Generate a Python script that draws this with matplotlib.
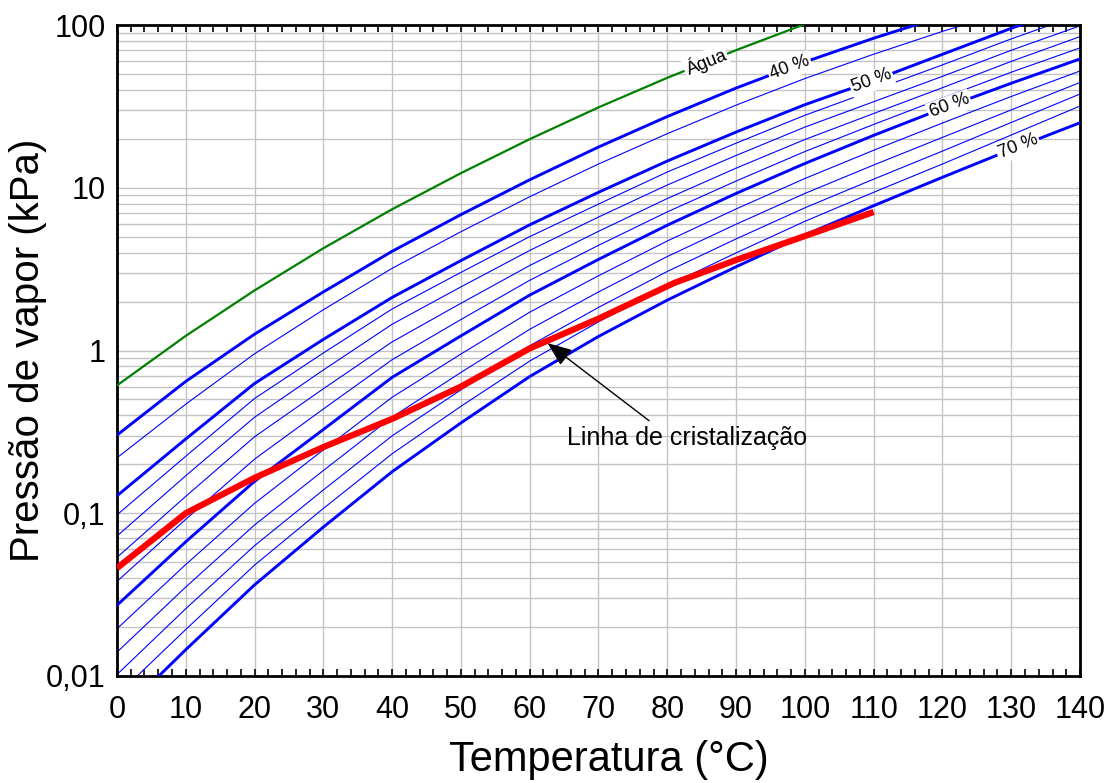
import numpy as np
import matplotlib.pyplot as plt
from matplotlib.ticker import FixedLocator, NullFormatter, LogLocator

plt.rcParams['font.family'] = ['Liberation Sans', 'DejaVu Sans']

# temperatures (°C) at which the curves were read
temps = [0, 10, 20, 30, 40, 50, 60, 70, 80, 90, 100, 110, 120, 130, 140]

# vapour pressure (kPa)
agua = [0.61, 1.23, 2.34, 4.25, 7.38, 12.3, 19.9, 31.2, 47.4, 70.1, 101.3, 143, 199, 270, 361]
c40 = [0.302, 0.646, 1.26, 2.29, 4.07, 6.84, 11.2, 17.8, 27.4, 41.0, 59.3, 83.0, 113, 151, 198]
c45 = [0.219, 0.468, 0.955, 1.78, 3.20, 5.37, 8.81, 14.0, 21.5, 32.2, 46.9, 66.2, 91.4, 123, 163]
c50 = [0.128, 0.286, 0.627, 1.17, 2.12, 3.57, 5.92, 9.38, 14.6, 22.0, 32.4, 45.7, 66.1, 95.5, 135]
c52 = [0.0977, 0.224, 0.507, 0.966, 1.80, 3.02, 5.01, 7.94, 12.5, 18.8, 27.9, 39.8, 56.9, 82.2, 116]
c54 = [0.0724, 0.170, 0.389, 0.759, 1.45, 2.46, 4.12, 6.61, 10.4, 15.8, 23.6, 33.8, 48.4, 70.0, 98.9]
c56 = [0.0535, 0.127, 0.295, 0.582, 1.13, 1.95, 3.33, 5.40, 8.59, 13.2, 19.8, 28.6, 41.2, 59.8, 84.9]
c58 = [0.0381, 0.0918, 0.215, 0.437, 0.878, 1.55, 2.70, 4.43, 7.11, 11.0, 16.7, 24.5, 35.6, 51.3, 72.4]
c60 = [0.0272, 0.0668, 0.157, 0.327, 0.684, 1.23, 2.19, 3.63, 5.89, 9.23, 14.1, 21.0, 30.7, 43.9, 61.9]
c62 = [0.0195, 0.0484, 0.115, 0.245, 0.516, 0.951, 1.72, 2.88, 4.71, 7.41, 11.4, 17.0, 25.0, 36.4, 52.2]
c64 = [0.0140, 0.0352, 0.0847, 0.183, 0.390, 0.733, 1.35, 2.29, 3.78, 5.97, 9.23, 13.8, 20.4, 30.1, 44.4]
c66 = [0.0102, 0.0259, 0.0632, 0.139, 0.299, 0.573, 1.07, 1.84, 3.06, 4.85, 7.53, 11.3, 16.8, 25.2, 37.7]
c68 = [0.0076, 0.0193, 0.0480, 0.107, 0.232, 0.454, 0.861, 1.50, 2.50, 3.98, 6.22, 9.38, 14.0, 21.1, 31.8]
c70 = [0.0056, 0.0145, 0.0363, 0.0822, 0.180, 0.359, 0.692, 1.22, 2.04, 3.27, 5.13, 7.76, 11.6, 17.2, 25.1]

# crystallization line
crist_t = [0, 10, 20, 30, 40, 50, 60, 70, 81, 90, 100, 110]
crist_p = [0.046, 0.10, 0.165, 0.255, 0.38, 0.60, 1.03, 1.57, 2.6, 3.6, 5.05, 7.1]

thick_curves = {'40 %': c40, '50 %': c50, '60 %': c60, '70 %': c70}
thin_curves = [c45, c52, c54, c56, c58, c62, c64, c66, c68]

fig = plt.figure(figsize=(11.14, 7.83), dpi=100)
ax = fig.add_axes([0.105, 0.1367, 0.8645, 0.8313])

ax.set_yscale('log')
ax.set_xlim(0, 140)
ax.set_ylim(0.01, 100)

# grid
ax.xaxis.set_major_locator(FixedLocator(range(0, 141, 10)))
ax.xaxis.set_minor_locator(FixedLocator(range(0, 141, 2)))
ax.yaxis.set_major_locator(FixedLocator([0.01, 0.1, 1, 10, 100]))
ax.yaxis.set_minor_locator(LogLocator(base=10, subs=np.arange(2, 10)))
ax.yaxis.set_minor_formatter(NullFormatter())
ax.grid(True, which='major', color='#c4c4c4', lw=1.0)
ax.grid(True, which='minor', axis='y', color='#c4c4c4', lw=1.0)
ax.set_axisbelow(True)

for c in thin_curves:
    ax.plot(temps, c, color='#0000ff', lw=0.8, zorder=2)
for c in thick_curves.values():
    ax.plot(temps, c, color='#0000ff', lw=2.1, zorder=3)
ax.plot(temps, agua, color='#008000', lw=1.6, zorder=3)
ax.plot(crist_t, crist_p, color='#ff0000', lw=4.5, solid_capstyle='butt', zorder=4)

# curve labels on the lines
def put_label(text, curve, t):
    logc = np.log10(curve)
    y = 10 ** np.interp(t, temps, logc)
    p1 = ax.transData.transform((t - 3, 10 ** np.interp(t - 3, temps, logc)))
    p2 = ax.transData.transform((t + 3, 10 ** np.interp(t + 3, temps, logc)))
    ang = np.degrees(np.arctan2(p2[1] - p1[1], p2[0] - p1[0]))
    ax.text(t, y, text, rotation=ang, rotation_mode='anchor', ha='center', va='center',
            fontsize=13, zorder=5,
            bbox=dict(boxstyle='square,pad=0.1', fc='white', ec='none'))

put_label('Água', agua, 85.6)
for (lbl, c), t in zip(thick_curves.items(), [97.8, 109.7, 121.0, 131.0]):
    put_label(lbl, c, t)

ax.annotate('Linha de cristalização', xy=(62.6, 1.11), xytext=(82.9, 0.29),
            ha='center', va='center', fontsize=18, zorder=6,
            arrowprops=dict(arrowstyle='-|>,head_length=0.75,head_width=0.3',
                            color='black', lw=1.0, relpos=(0.37, 1.0),
                            shrinkA=3, shrinkB=0, mutation_scale=20))

ax.set_yticklabels(['0,01', '0,1', '1', '10', '100'])
ax.tick_params(axis='x', which='both', direction='in', top=True, bottom=True,
               labelsize=22, pad=14, width=1.2, length=5)
ax.tick_params(axis='y', which='both', length=0, labelsize=22, pad=8)

for s in ax.spines.values():
    s.set_linewidth(2.0)

ax.set_xlabel('Temperatura (°C)', fontsize=30)
ax.xaxis.set_label_coords(0.511, -0.099)
ax.set_ylabel('Pressão de vapor (kPa)', fontsize=29, labelpad=-1)

fig.savefig('out.png', dpi=100)
